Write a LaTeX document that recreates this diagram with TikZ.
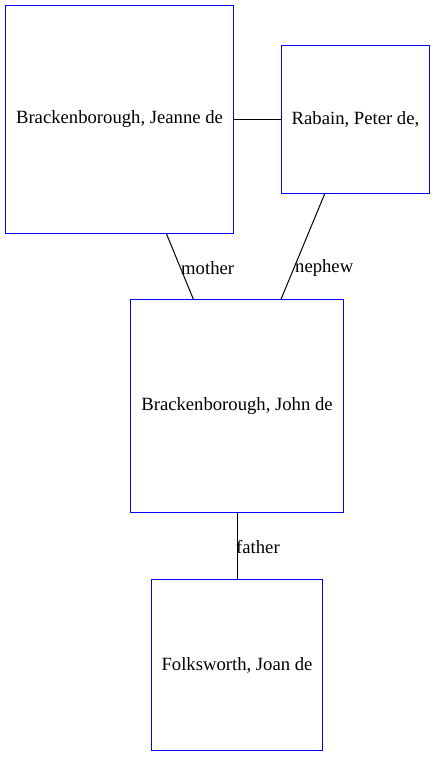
\documentclass[tikz,border=0pt]{standalone}
\usepackage{fontspec}
\setmainfont{Liberation Serif}
\begin{document}
\begin{tikzpicture}[x=1pt,y=-1pt,
  person/.style={inner sep=0pt, outer sep=0pt, font=\fontsize{18.67}{21}\selectfont},
  frame/.style={blue, line width=1pt},
  rel/.style={black, line width=1pt},
  lbl/.style={font=\fontsize{18.67}{21}\selectfont, inner sep=0pt, anchor=west}]
\useasboundingbox (0,0) rectangle (435,757);
\node[person, minimum width=228pt, minimum height=228pt] (jeanne) at (119.5,119.5) {};
\node[person, minimum width=148pt, minimum height=148pt] (peter) at (355.5,119.5) {};
\node[person, minimum width=213pt, minimum height=213pt] (john) at (237,406) {};
\node[person, minimum width=171pt, minimum height=171pt] (joan) at (237,665) {};
\draw[frame] (jeanne.north west) rectangle (jeanne.south east);
\draw[frame] (peter.north west) rectangle (peter.south east);
\draw[frame] (john.north west) rectangle (john.south east);
\draw[frame] (joan.north west) rectangle (joan.south east);
\draw[rel] (jeanne) -- (peter);
\draw[rel] (jeanne) -- (john);
\draw[rel] (peter) -- (john);
\draw[rel] (john) -- (joan);
\node[person] (tjeanne) at (jeanne.center) {Brackenborough, Jeanne de};
\node[person] (tpeter) at (peter.center) {Rabain, Peter de,};
\node[person] (tjohn) at (john.center) {Brackenborough, John de};
\node[person] (tjoan) at (joan.center) {Folksworth, Joan de};
\node[lbl] (lmother) at (181,268) {mother};
\node[lbl] (lnephew) at (295,268) {nephew};
\node[lbl] (lfather) at (236,547) {father};
\end{tikzpicture}
\end{document}
